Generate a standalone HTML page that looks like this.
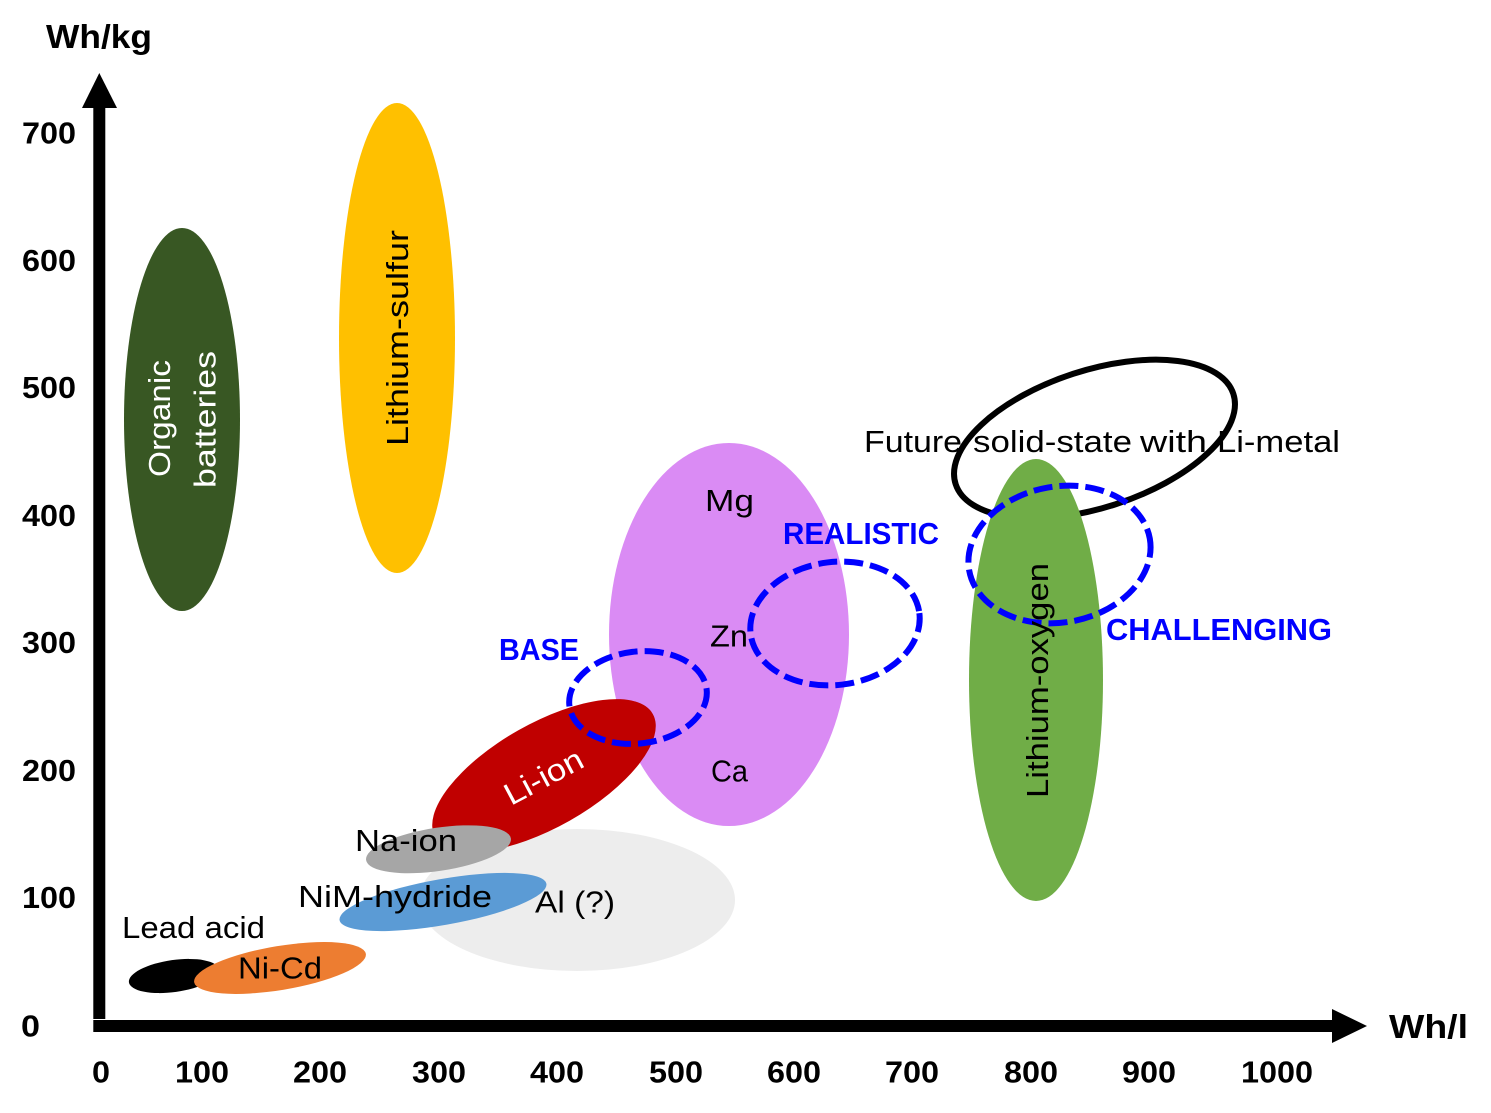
<!DOCTYPE html>
<html>
<head>
<meta charset="utf-8">
<style>
html,body{margin:0;padding:0;background:#fff;width:1491px;height:1113px;overflow:hidden}
svg{display:block}
text{font-family:"Liberation Sans",sans-serif;font-size:31px;fill:#000}
.b{font-weight:bold}
.w{fill:#fff}
.blue{fill:#0000ff;font-weight:bold}
.d{fill:none;stroke:#0000ff;stroke-width:6;stroke-dasharray:19 7}
</style>
</head>
<body>
<svg width="1491" height="1113" viewBox="0 0 1491 1113" xmlns="http://www.w3.org/2000/svg">
<ellipse cx="182" cy="419.5" rx="58" ry="191.5" fill="#385723"/>
<ellipse cx="397" cy="338" rx="58" ry="235" fill="#FFC000"/>
<ellipse cx="729" cy="634.5" rx="120" ry="191.5" fill="#DA8BF4"/>
<ellipse cx="1094.5" cy="439" rx="146" ry="68.6" fill="none" stroke="#000" stroke-width="6" transform="rotate(-18 1094.5 439)"/>
<ellipse cx="1036" cy="680" rx="67" ry="221" fill="#70AD47"/>
<ellipse cx="577" cy="900" rx="158" ry="71" fill="#EDEDED"/>
<ellipse cx="544" cy="775.5" rx="125" ry="52" fill="#C00000" transform="rotate(-29.5 544 775.5)"/>
<ellipse cx="438.5" cy="849.3" rx="73.2" ry="21.6" fill="#A6A6A6" transform="rotate(-8.5 438.5 849.3)"/>
<ellipse cx="443" cy="902" rx="105" ry="23" fill="#5B9BD5" transform="rotate(-10 443 902)"/>
<ellipse cx="174" cy="976" rx="45.5" ry="16" fill="#000" transform="rotate(-8 174 976)"/>
<ellipse cx="280" cy="968" rx="87" ry="22" fill="#ED7D31" transform="rotate(-9.4 280 968)"/>

<ellipse class="d" cx="638" cy="697.5" rx="69.1" ry="46" transform="rotate(-7 638 697.5)"/>
<ellipse class="d" cx="835" cy="623.5" rx="85" ry="61.5" transform="rotate(-7 835 623.5)"/>
<ellipse class="d" cx="1059.5" cy="554.5" rx="91.7" ry="68" transform="rotate(-10 1059.5 554.5)"/>

<!-- axes -->
<rect x="93.3" y="100" width="12" height="919" fill="#000"/>
<polygon points="99.3,73 117,108 82,108" fill="#000"/>
<rect x="93.3" y="1020" width="1240" height="12" fill="#000"/>
<polygon points="1367,1026 1332,1009 1332,1043" fill="#000"/>

<!-- axis labels -->
<text class="b" x="46" y="48" textLength="106" lengthAdjust="spacingAndGlyphs" style="font-size:33px">Wh/kg</text>
<text class="b" x="1389" y="1038" textLength="79" lengthAdjust="spacingAndGlyphs" style="font-size:33px">Wh/l</text>

<!-- y ticks -->
<text class="b" x="22" y="143.5" textLength="54" lengthAdjust="spacingAndGlyphs">700</text>
<text class="b" x="22" y="271" textLength="54" lengthAdjust="spacingAndGlyphs">600</text>
<text class="b" x="22" y="398" textLength="54" lengthAdjust="spacingAndGlyphs">500</text>
<text class="b" x="22" y="526" textLength="54" lengthAdjust="spacingAndGlyphs">400</text>
<text class="b" x="22" y="653" textLength="54" lengthAdjust="spacingAndGlyphs">300</text>
<text class="b" x="22" y="781" textLength="54" lengthAdjust="spacingAndGlyphs">200</text>
<text class="b" x="22" y="908" textLength="54" lengthAdjust="spacingAndGlyphs">100</text>
<text class="b" x="21" y="1036.5" textLength="19" lengthAdjust="spacingAndGlyphs">0</text>

<!-- x ticks -->
<text class="b" x="92" y="1082.5" textLength="18" lengthAdjust="spacingAndGlyphs">0</text>
<text class="b" x="175" y="1082.5" textLength="54" lengthAdjust="spacingAndGlyphs">100</text>
<text class="b" x="293" y="1082.5" textLength="54" lengthAdjust="spacingAndGlyphs">200</text>
<text class="b" x="412" y="1082.5" textLength="54" lengthAdjust="spacingAndGlyphs">300</text>
<text class="b" x="530" y="1082.5" textLength="54" lengthAdjust="spacingAndGlyphs">400</text>
<text class="b" x="649" y="1082.5" textLength="54" lengthAdjust="spacingAndGlyphs">500</text>
<text class="b" x="767" y="1082.5" textLength="54" lengthAdjust="spacingAndGlyphs">600</text>
<text class="b" x="885" y="1082.5" textLength="54" lengthAdjust="spacingAndGlyphs">700</text>
<text class="b" x="1004" y="1082.5" textLength="54" lengthAdjust="spacingAndGlyphs">800</text>
<text class="b" x="1122" y="1082.5" textLength="54" lengthAdjust="spacingAndGlyphs">900</text>
<text class="b" x="1241" y="1082.5" textLength="72" lengthAdjust="spacingAndGlyphs">1000</text>

<!-- labels -->
<text class="w" transform="translate(170 477) rotate(-90)" textLength="117" lengthAdjust="spacingAndGlyphs">Organic</text>
<text class="w" transform="translate(215.5 488) rotate(-90)" textLength="137" lengthAdjust="spacingAndGlyphs">batteries</text>
<text transform="translate(408 446) rotate(-90)" textLength="216" lengthAdjust="spacingAndGlyphs">Lithium-sulfur</text>
<text transform="translate(1048 798) rotate(-90)" textLength="235" lengthAdjust="spacingAndGlyphs">Lithium-oxygen</text>
<text class="w" transform="translate(511 806) rotate(-28)" textLength="85" lengthAdjust="spacingAndGlyphs">Li-ion</text>
<text x="705" y="511" textLength="49" lengthAdjust="spacingAndGlyphs">Mg</text>
<text x="710" y="646.5" textLength="38" lengthAdjust="spacingAndGlyphs">Zn</text>
<text x="711" y="781.5" textLength="37" lengthAdjust="spacingAndGlyphs">Ca</text>
<text x="355" y="851" textLength="102" lengthAdjust="spacingAndGlyphs">Na-ion</text>
<text x="298" y="907" textLength="194" lengthAdjust="spacingAndGlyphs">NiM-hydride</text>
<text x="535" y="912.5" textLength="80" lengthAdjust="spacingAndGlyphs">Al (?)</text>
<text x="122" y="938" textLength="143" lengthAdjust="spacingAndGlyphs">Lead acid</text>
<text x="238" y="978.5" textLength="84" lengthAdjust="spacingAndGlyphs">Ni-Cd</text>
<text x="864" y="452" textLength="98" lengthAdjust="spacingAndGlyphs">Future</text>
<text x="973" y="452" textLength="159" lengthAdjust="spacingAndGlyphs">solid-state</text>
<text x="1140" y="452" textLength="67" lengthAdjust="spacingAndGlyphs">with</text>
<text x="1217" y="452" textLength="123" lengthAdjust="spacingAndGlyphs">Li-metal</text>
<text class="blue" x="499" y="660" textLength="80" lengthAdjust="spacingAndGlyphs">BASE</text>
<text class="blue" x="783" y="544" textLength="156" lengthAdjust="spacingAndGlyphs">REALISTIC</text>
<text class="blue" x="1106" y="640" textLength="226" lengthAdjust="spacingAndGlyphs">CHALLENGING</text>
</svg>
</body>
</html>
